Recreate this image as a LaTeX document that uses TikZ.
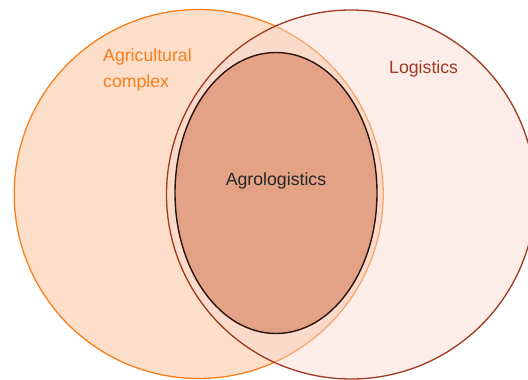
\documentclass[tikz,border=0pt]{standalone}
\usepackage{fontspec}
\setmainfont{Liberation Sans}
\usepackage{tikz}
\usetikzlibrary{shapes}
\usepackage{xcolor}
\definecolor{agriline}{HTML}{F77F1E}
\definecolor{agrifill}{HTML}{FDDFC9}
\definecolor{logiline}{HTML}{A0391E}
\definecolor{logifill}{HTML}{F8D8CE}
\definecolor{agrofill}{HTML}{E3A285}
\definecolor{agroline}{HTML}{2B140C}

\begin{document}
\begin{tikzpicture}[x=1pt, y=-1pt,
		set/.style = {draw, circle, minimum size=369pt, inner sep=0pt, line width=1.3pt},
		txt/.style = {font=\fontsize{17.7}{26.5}\selectfont, inner sep=0pt}]
		\clip (0,0) rectangle (528,380);
		\node[set, draw=agriline, fill=agrifill] (agri) at (198.7,194) {};
		\node[set, draw=logiline, fill=logifill, fill opacity=0.45] (logi) at (351,194.5) {};
		\node[draw=agroline, fill=agrofill, ellipse, minimum width=202pt, minimum height=281pt, inner sep=0pt, line width=1.4pt] (agro) at (276,193) {};
		\node[txt, text=agriline, align=left, anchor=north west] (agritxt) at (103,48) {Agricultural\\complex};
		\node[txt, text=logiline, anchor=base west] (logitxt) at (389,73.3) {Logistics};
		\node[txt, text=black!85, anchor=base] (agrotxt) at (agro.center |- 0,185) {Agrologistics};
	\end{tikzpicture}
\end{document}
